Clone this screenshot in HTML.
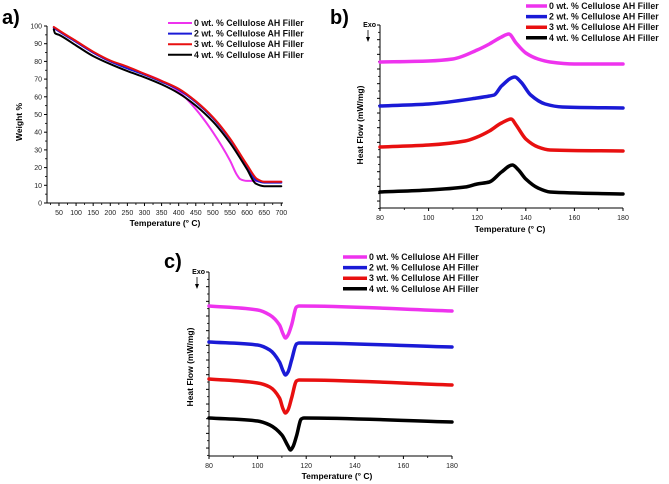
<!DOCTYPE html>
<html><head><meta charset="utf-8">
<style>
body{margin:0;background:#fff;}
svg{display:block;font-family:"Liberation Sans",Arial,sans-serif;}
</style></head>
<body>
<svg id="fig" width="669" height="484" viewBox="0 0 669 484" xmlns="http://www.w3.org/2000/svg">
<text x="2" y="24" font-size="20" font-weight="bold">a)</text>
<text x="330" y="24" font-size="20" font-weight="bold">b)</text>
<text x="164" y="268" font-size="20" font-weight="bold">c)</text>
<g id="pa"></g>
<g id="pb"></g>
<g id="pc"></g>
</svg>
<script>
// ---- Panel a data (TGA, weight %) ----
const aT0 = [35,50,100,150,200,250,300,350,400,450,500,550,570,580,600,620,650,700];
const aW0 = [99,97,91,85,80,76.5,73,69,63,53,40,24,16,13.5,12.5,12.5,12,12];
const aT2 = [35,50,100,150,200,250,300,350,400,450,500,550,600,625,650,700];
const aW2 = [99,97,91,85,80,76,72.5,68.5,64,57,48,36,21,13,11.5,11.5];
const aT3 = [35,50,100,150,200,250,300,350,400,450,500,550,600,630,650,700];
const aW3 = [99.5,97.5,91.5,85.5,80.5,77,73,69,64.5,57.5,48.5,36.5,21.5,13.5,12,12];
const aT4 = [35,38,50,100,150,200,250,300,350,400,450,500,550,600,625,650,700];
const aW4 = [98,96,95,89,83,78.5,74.5,71,67,62,55,46,34,19,11,9.5,9.5];
const aXTicks = [50,100,150,200,250,300,350,400,450,500,550,600,650,700];
const aYTicks = [0,10,20,30,40,50,60,70,80,90,100];
// ---- Panel b data (DSC heating, arbitrary offset units) ----
const bT0 = [80,100,110,120,125,130,133,136,140,145,150,160,180];
const bH0 = [146,147,149,158,164,171,174,165,155,149,146,144,144];
const bT2 = [80,100,120,125,127,130,135.5,138,142,148,155,180];
const bH2 = [102,104,110,112,113,122,131,126,113,104,101,100];
const bT3 = [80,100,115,120,125,130,134,136,140,145,150,180];
const bH3 = [61,63,67,71,77,85,89,83,69,61,58,57];
const bT4 = [80,100,115,120,125,130,134.5,137,140,145,150,180];
const bH4 = [16,18,21,24,26,36,43,38,29,20,16,14];
const bXTicks = [80,100,120,140,160,180];
// ---- Panel c data (DSC cooling) ----
const cT0 = [80,100,105,109,110.5,111.5,112.5,114,116,117,180];
const cH0 = [150,146,141,131,122,118,121,131,149,150,145];
const cT2 = [80,100,105,109,110.5,111.5,112.5,114,116,117,180];
const cH2 = [114,111,106,94,85,81,84,96,112,113,109];
const cT3 = [80,100,105,109,110.5,111.5,112.5,114,116,117,180];
const cH3 = [77,73,69,58,47,43,46,58,75,76,71];
const cT4 = [80,100,105,110,112.5,113.5,114.5,116,118,119,180];
const cH4 = [38,35,31,21,10,6,9,20,37,38,34];
const cXTicks = [80,100,120,140,160,180];
const legendLabels = ["0 wt. % Cellulose AH Filler","2 wt. % Cellulose AH Filler","3 wt. % Cellulose AH Filler","4 wt. % Cellulose AH Filler"];
const colors = ["#ee33ee","#1a1ad6","#e81010","#000000"];

const NS="http://www.w3.org/2000/svg";
function mk(parent,tag,attrs){const e=document.createElementNS(NS,tag);for(const k in attrs)e.setAttribute(k,attrs[k]);parent.appendChild(e);return e;}
function lin(d0,d1,r0,r1){return v=>r0+(v-d0)/(d1-d0)*(r1-r0);}
function smoothPath(xs,ys){
  const n=xs.length, d=[], m=new Array(n);
  for(let i=0;i<n-1;i++) d.push((ys[i+1]-ys[i])/(xs[i+1]-xs[i]));
  m[0]=d[0]; m[n-1]=d[n-2];
  for(let i=1;i<n-1;i++){
    if(d[i-1]*d[i]<=0) m[i]=0;
    else { const h0=xs[i]-xs[i-1], h1=xs[i+1]-xs[i];
      const w1=2*h1+h0, w2=h1+2*h0; m[i]=(w1+w2)/(w1/d[i-1]+w2/d[i]); }
  }
  let p="M"+xs[0].toFixed(1)+","+ys[0].toFixed(1);
  for(let i=0;i<n-1;i++){
    const h=(xs[i+1]-xs[i])/3;
    p+="C"+(xs[i]+h).toFixed(1)+","+(ys[i]+m[i]*h).toFixed(1)+" "+(xs[i+1]-h).toFixed(1)+","+(ys[i+1]-m[i+1]*h).toFixed(1)+" "+xs[i+1].toFixed(1)+","+ys[i+1].toFixed(1);
  }
  return p;
}

function panel(g,o){
  const sx=lin(o.xd[0],o.xd[1],o.L,o.R), sy=lin(o.yd[0],o.yd[1],o.B,o.T);
  const ax=mk(g,"path",{d:`M${o.L},${o.T}V${o.B}H${o.R}`,stroke:"#000","stroke-width":1,fill:"none"});
  
  
  o.xt.forEach((v,i)=>{
    const x=sx(v);
    mk(g,"line",{x1:x,y1:o.B,x2:x,y2:o.B+3,stroke:"#000","stroke-width":1});
    if(i<o.xt.length-1){const xm=sx(v+(o.xt[1]-o.xt[0])/2);mk(g,"line",{x1:xm,y1:o.B,x2:xm,y2:o.B+2,stroke:"#000","stroke-width":0.8});}
    const t=mk(g,"text",{x:x,y:o.B+12,"font-size":7,"text-anchor":"middle",fill:"#222"});
    t.textContent=v;
    
    
  });
  if(o.xt[0]>o.xd[0]){const xm=sx(o.xt[0]-(o.xt[1]-o.xt[0])/2);mk(g,"line",{x1:xm,y1:o.B,x2:xm,y2:o.B+2,stroke:"#000","stroke-width":0.8});}
  if(o.yt){
    o.yt.forEach((v,i)=>{
      const y=sy(v);
      mk(g,"line",{x1:o.L-3,y1:y,x2:o.L,y2:y,stroke:"#000","stroke-width":1});
      if(i<o.yt.length-1){const ym=sy(v+5);mk(g,"line",{x1:o.L-2,y1:ym,x2:o.L,y2:ym,stroke:"#000","stroke-width":0.8});}
      const t=mk(g,"text",{x:o.L-5,y:y+2.5,"font-size":7,"text-anchor":"end",fill:"#222"});
      t.textContent=v;
      
      
    });
  } else {
    const step=14.67;
    for(let k=0;o.T+k*step/2<=o.B+0.5;k++){
      const y=o.T+k*step/2;
      mk(g,"line",{x1:o.L-(k%2?2:3),y1:y,x2:o.L,y2:y,stroke:"#000","stroke-width":k%2?0.8:1});
    }
    const ex=mk(g,"text",{x:o.L-4,y:o.T+2,"font-size":7,"font-weight":"bold","text-anchor":"end"});
    ex.textContent="Exo";
    
    
    mk(g,"path",{d:`M${o.L-12},${o.T+5}V${o.T+15}`,stroke:"#000","stroke-width":0.8});
    mk(g,"path",{d:`M${o.L-14},${o.T+12}L${o.L-12},${o.T+17}L${o.L-10},${o.T+12}Z`,fill:"#000"});
  }
  const xl=mk(g,"text",{x:o.xlx,y:o.xly,"font-size":8.5,"font-weight":"bold","text-anchor":"middle"});
  xl.textContent="Temperature (° C)";
  
  
  const yl=mk(g,"text",{x:o.ylx,y:o.yly,"font-size":8.5,"font-weight":"bold","text-anchor":"middle",transform:`rotate(-90 ${o.ylx} ${o.yly})`});
  yl.textContent=o.ytitle;
  
  
  o.series.forEach((s,i)=>{
    const p=mk(g,"path",{d:smoothPath(s[0].map(sx),s[1].map(sy)),stroke:colors[i],"stroke-width":o.lw,fill:"none","stroke-linejoin":"round","stroke-linecap":"round"});
    
    
  });
  legendLabels.forEach((lab,i)=>{
    const y=o.lg[2]+i*o.lg[3];
    const l=mk(g,"line",{x1:o.lg[0],y1:y,x2:o.lg[1],y2:y,stroke:colors[i],"stroke-width":o.lw});
    
    
    const t=mk(g,"text",{x:o.lg[1]+2,y:y+3,"font-size":8.8,"font-weight":"bold",fill:"#111"});
    t.textContent=lab;
    
    
  });
}
panel(document.getElementById("pa"),{L:47,R:283,T:26,B:203,xd:[15,705],yd:[0,100],xt:aXTicks,yt:aYTicks,
  xlx:165,xly:226,ylx:22,yly:122,ytitle:"Weight %",lw:2,
  series:[[aT0,aW0],[aT2,aW2],[aT3,aW3],[aT4,aW4]],lg:[168,192,23,10.6]});
panel(document.getElementById("pb"),{L:380,R:623,T:25,B:208,xd:[80,180],yd:[0,183],xt:bXTicks,
  xlx:510,xly:232,ylx:363,yly:125,ytitle:"Heat Flow (mW/mg)",lw:3.5,
  series:[[bT0,bH0],[bT2,bH2],[bT3,bH3],[bT4,bH4]],lg:[526,547,6,10.6]});
panel(document.getElementById("pc"),{L:209,R:452,T:272,B:456,xd:[80,180],yd:[0,184],xt:cXTicks,
  xlx:337,xly:479,ylx:193,yly:367,ytitle:"Heat Flow (mW/mg)",lw:3.5,
  series:[[cT0,cH0],[cT2,cH2],[cT3,cH3],[cT4,cH4]],lg:[343,367,257,10.6]});
</script>
</body></html>
